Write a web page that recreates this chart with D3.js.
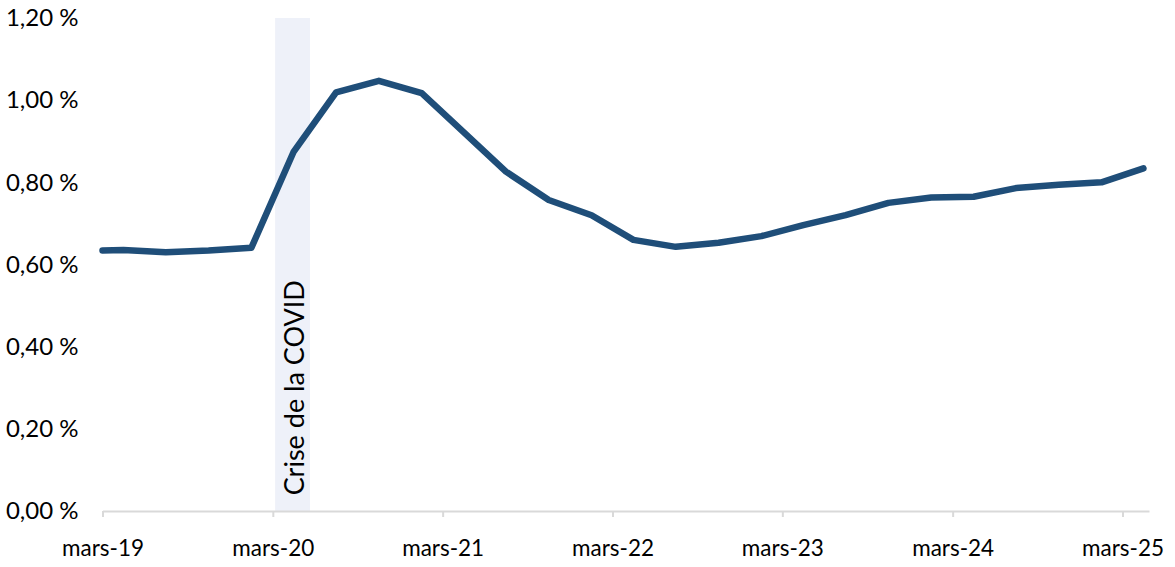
<!DOCTYPE html>
<html>
<head>
<meta charset="utf-8">
<script src="https://cdn.jsdelivr.net/npm/d3@7"></script>
<style>
  html, body { margin: 0; padding: 0; background: #ffffff; }
  svg { display: block; }
  text { font-family: Lato, "Open Sans", sans-serif; fill: #000; }
</style>
</head>
<body>
<svg id="chart" width="1175" height="567"></svg>
<script>
// ---- Data ----
const dates = [
  "2019-03-01", "2019-04-15", "2019-07-15", "2019-10-15",
  "2020-01-15", "2020-04-15", "2020-07-15", "2020-10-15",
  "2021-01-15", "2021-04-15", "2021-07-15", "2021-10-15",
  "2022-01-15", "2022-04-15", "2022-07-15", "2022-10-15",
  "2023-01-15", "2023-04-15", "2023-07-15", "2023-10-15",
  "2024-01-15", "2024-04-15", "2024-07-15", "2024-10-15",
  "2025-01-15", "2025-04-15"
];
const values = [
  0.634, 0.635, 0.630, 0.634,
  0.641, 0.875, 1.019, 1.047,
  1.017, 0.922, 0.826, 0.757,
  0.720, 0.660, 0.643, 0.653,
  0.669, 0.696, 0.720, 0.750,
  0.763, 0.765, 0.786, 0.794,
  0.800, 0.834
];
const tickDates = ["2019-03-01", "2020-03-01", "2021-03-01", "2022-03-01", "2023-03-01", "2024-03-01", "2025-03-01"];
const tickLabels = ["mars-19", "mars-20", "mars-21", "mars-22", "mars-23", "mars-24", "mars-25"];
const yTicks = [0, 0.2, 0.4, 0.6, 0.8, 1.0, 1.2];
const yTickLabels = ["0,00 %", "0,20 %", "0,40 %", "0,60 %", "0,80 %", "1,00 %", "1,20 %"];
const covidBand = ["2020-03-06", "2020-05-20"];
const covidLabel = "Crise de la COVID";
const xDomain = ["2019-03-01", "2025-04-27"];

// ---- Chart ----
const parse = d3.utcParse("%Y-%m-%d");
const svg = d3.select("#chart");
const margin = { left: 102.5, right: 1149, top: 18, bottom: 511 };

const x = d3.scaleUtc()
  .domain(xDomain.map(parse))
  .range([margin.left, margin.right]);
const y = d3.scaleLinear()
  .domain([0, 1.2])
  .range([margin.bottom, margin.top]);

// COVID band
const bx0 = x(parse(covidBand[0])), bx1 = x(parse(covidBand[1]));
svg.append("rect")
  .attr("x", bx0).attr("y", y(1.2))
  .attr("width", bx1 - bx0).attr("height", y(0) - y(1.2))
  .attr("fill", "#eef1f9");

svg.append("text")
  .attr("transform", `translate(${(bx0 + bx1) / 2 + 1},${y(0.3)}) rotate(-90)`)
  .attr("text-anchor", "middle")
  .attr("dominant-baseline", "central")
  .style("font-size", "27px")
  .text(covidLabel);

// X axis
const xAxis = d3.axisBottom(x)
  .tickValues(tickDates.map(parse))
  .tickFormat((d, i) => tickLabels[i])
  .tickSize(6)
  .tickSizeOuter(0);
const gx = svg.append("g")
  .attr("transform", `translate(0,${y(0)})`)
  .call(xAxis);
gx.select(".domain").attr("stroke", "#d9d9d9").attr("stroke-width", 2);
gx.selectAll(".tick line").attr("stroke", "#d9d9d9").attr("stroke-width", 2);
gx.selectAll(".tick text")
  .attr("y", 37).attr("dy", "0.35em")
  .style("font-size", "22.5px").style("font-family", "Lato, sans-serif").attr("fill", "#000");

// Y axis labels
const yAxis = d3.axisLeft(y)
  .tickValues(yTicks)
  .tickFormat((d, i) => yTickLabels[i])
  .tickSize(0)
  .tickPadding(24);
const gy = svg.append("g")
  .attr("transform", `translate(${margin.left},0)`)
  .call(yAxis);
gy.select(".domain").remove();
gy.selectAll(".tick text").style("font-size", "24px").style("font-family", "Lato, sans-serif").attr("fill", "#000");

// Line
const data = dates.map((d, i) => ({ date: parse(d), value: values[i] }));
const line = d3.line()
  .x(d => x(d.date))
  .y(d => y(d.value));
svg.append("path")
  .datum(data)
  .attr("fill", "none")
  .attr("stroke", "#1f4e79")
  .attr("stroke-width", 6.5)
  .attr("stroke-linejoin", "round")
  .attr("stroke-linecap", "round")
  .attr("d", line);
</script>
</body>
</html>
